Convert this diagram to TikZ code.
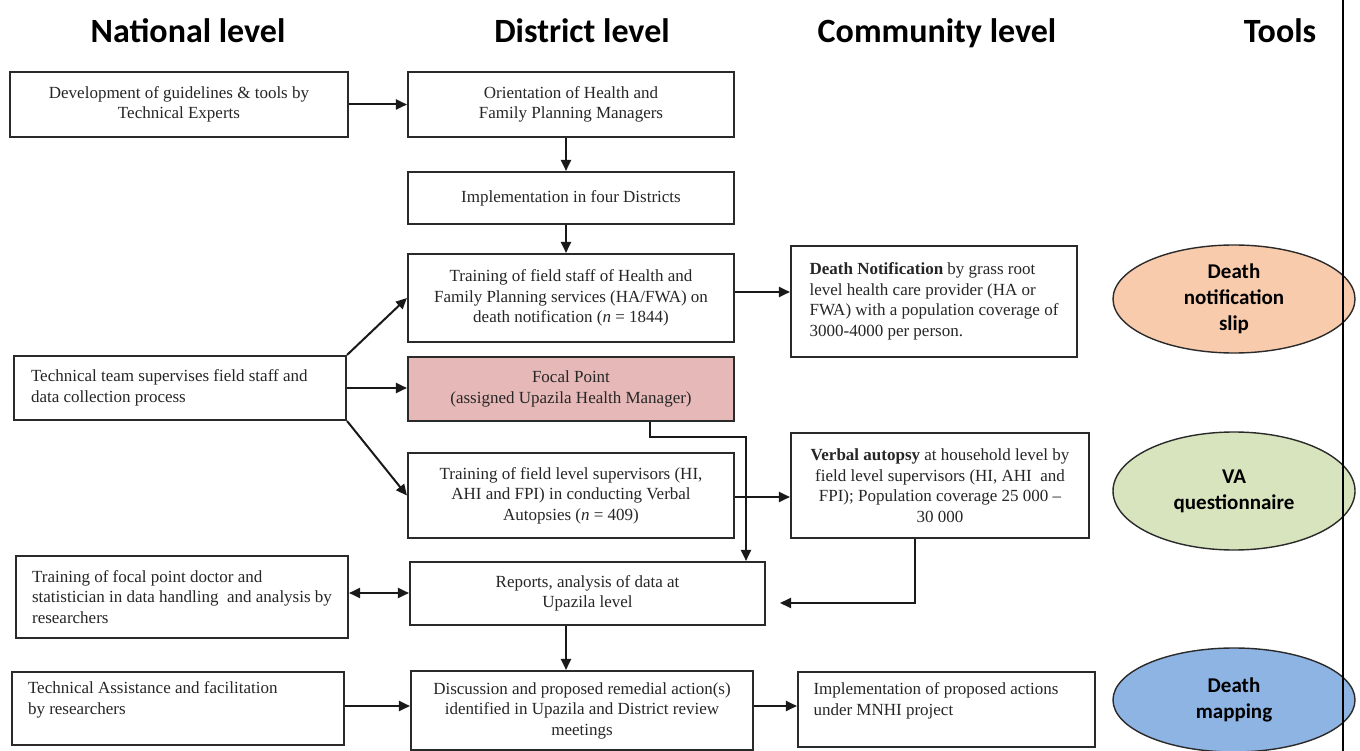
\documentclass[tikz,border=0pt]{standalone}
\usepackage{fontspec}
\setmainfont{Liberation Serif}
\newfontfamily\headfont{Carlito}
\usetikzlibrary{arrows.meta,shapes.geometric,calc}
\definecolor{pinkfill}{HTML}{E6B9B8}
\definecolor{peach}{HTML}{F8CBAD}
\definecolor{sage}{HTML}{D7E4BD}
\definecolor{skyblue}{HTML}{8EB4E3}
\definecolor{edge}{HTML}{2A2A2A}
\definecolor{txt}{HTML}{262626}
\begin{document}
\begin{tikzpicture}[x=1pt,y=-1pt,
  box/.style={draw=edge, line width=2.1pt, inner sep=0pt, align=center,
    font=\fontsize{17}{20.5}\selectfont, text=txt},
  lbox/.style={box, align=flush left},
  ell/.style={ellipse, draw=edge, line width=1.4pt, inner sep=0pt, align=center,
    font=\headfont\bfseries\fontsize{21}{26}\selectfont, text=black,
    minimum width=242pt},
  head/.style={anchor=base, font=\headfont\bfseries\fontsize{34}{40}\selectfont, text=black},
  arr/.style={draw=black!90, line width=2pt, -{Triangle[length=11pt,width=10pt]}},
  arrboth/.style={draw=black!90, line width=2pt, {Triangle[length=11pt,width=10pt]}-{Triangle[length=11pt,width=10pt]}}
]
\useasboundingbox (0,0) rectangle (1360,751);
\fill[white] (0,0) rectangle (1360,751);

% headings
\node[head] (hn) at (188,43) {National level};
\node[head] (hd) at (582,43) {District level};
\node[head] (hc) at (937,43) {Community level};
\node[head] (ht) at (1280,43) {Tools};

% national column
\node[box, minimum width=338pt, minimum height=65pt] (A) at (179,104.5)
  {Development of guidelines \& tools by\\Technical Experts};
\node[lbox, text width=298pt, minimum width=332pt, minimum height=64pt] (F) at (180,388)
  {Technical team supervises field staff and\\data collection process};
\node[lbox, minimum width=332pt, minimum height=82pt] (M) at (182,597)
  {Training of focal point doctor and\\statistician in data handling\ \ and analysis by\\researchers};
\node[lbox, text width=300pt, minimum width=332pt, minimum height=73pt] (K) at (178,708.5)
  {Technical Assistance and facilitation\\by researchers\\\mbox{}};

% district column
\node[box, minimum width=326pt, minimum height=65pt] (B) at (571,104.5)
  {Orientation of Health and\\Family Planning Managers};
\node[box, minimum width=326pt, minimum height=52pt] (C) at (571,198)
  {Implementation in four Districts};
\node[box, minimum width=326pt, minimum height=88pt] (D) at (571,298)
  {Training of field staff of Health and\\Family Planning services (HA/FWA) on\\death notification (\textit{n} = 1844)};
\node[box, fill=pinkfill, minimum width=326pt, minimum height=64pt] (G) at (571,389)
  {Focal Point\\(assigned Upazila Health Manager)};
\node[box, minimum width=326pt, minimum height=85pt] (H) at (571,495.5)
  {Training of field level supervisors (HI,\\AHI and FPI) in conducting Verbal\\Autopsies (\textit{n} = 409)};
\node[box, minimum width=355pt, minimum height=63pt] (I) at (587.5,593.5)
  {Reports, analysis of data at\\Upazila level};
\node[box, minimum width=342pt, minimum height=79pt] (J) at (582,710.5)
  {Discussion and proposed remedial action(s)\\identified in Upazila and District review\\meetings};

% community column
\node[lbox, minimum width=286pt, minimum height=111pt] (E) at (934,301.5)
  {\textbf{Death Notification} by grass root\\level health care provider (HA or\\FWA) with a population coverage of\\3000-4000 per person.};
\node[box, minimum width=298pt, minimum height=105pt] (V) at (940,485.5)
  {\textbf{Verbal autopsy} at household level by\\field level supervisors (HI, AHI\ \ and\\FPI); Population coverage 25 000 --\\30 000};
\node[lbox, text width=266pt, minimum width=297pt, minimum height=75pt] (L) at (946.5,709.5)
  {Implementation of proposed actions\\under MNHI project\\\mbox{}};

% tools
\node[ell, fill=peach, minimum height=108pt] (T1) at (1234,299) {Death\\notification\\slip};
\node[ell, fill=sage, minimum height=118pt] (T2) at (1234,491) {VA\\questionnaire};
\node[ell, fill=skyblue, minimum height=104pt] (T3) at (1234,700) {Death\\mapping};

% right rule
\coordinate (vtop) at (1343,0);
\coordinate (vbot) at (1343,751);
\draw[line width=2pt, black] (vtop) -- (vbot);

% connectors
\draw[arr] (A.east) -- (A.east -| B.west);
\draw[arr] ([xshift=-5pt]B.south) -- ([xshift=-5pt]B.south |- C.north);
\draw[arr] ([xshift=-5pt]C.south) -- ([xshift=-5pt]C.south |- D.north);
\draw[arr] ([yshift=6pt]D.east) -- ([yshift=6pt]D.east -| E.west);
\draw[arr] (F.north east) -- (D.west);
\draw[arr] (F.east) -- (F.east -| G.west);
\draw[arr] (F.south east) -- (H.west);
\draw[arr] ([xshift=79pt]G.south) -- ++(0,15) -| ([xshift=158.5pt]I.north);
\draw[arr] ([yshift=-1.5pt]H.east) -- ([yshift=-1.5pt]H.east -| V.west);
\coordinate (vaend) at (780,603);
\draw[arr] ([xshift=-25pt]V.south) |- (vaend);
\draw[arrboth] ([yshift=4pt]M.east) -- ([yshift=4pt]M.east -| I.west);
\draw[arr] ([xshift=-21.5pt]I.south) -- ([xshift=-21.5pt]I.south |- J.north);
\draw[arr] ([yshift=2.5pt]K.east) -- ([yshift=2.5pt]K.east -| J.west);
\draw[arr] ([yshift=4.5pt]J.east) -- ([yshift=4.5pt]J.east -| L.west);
\end{tikzpicture}
\end{document}
